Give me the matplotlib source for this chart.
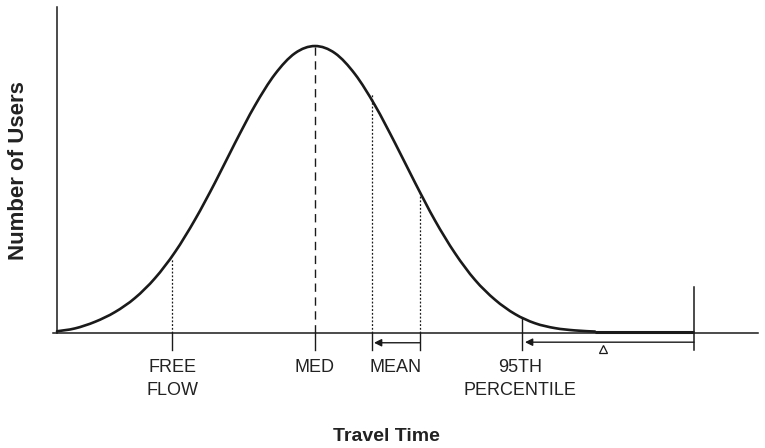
import matplotlib.pyplot as plt
from matplotlib.path import Path
from matplotlib.patches import PathPatch

# courbe de distribution (temps de parcours / nombre d'usagers)
temps = [0, 1.8, 3.8, 5.8, 7.8, 9.8, 11.8, 13.8, 15.8, 17.8, 19.8, 21.8, 23.8, 25.8,
         27.8, 29.8, 31.8, 33.8, 35.8, 37.8, 39.8, 41.8, 43.8, 45.8, 47.8, 49.8, 51.8, 53.8]
usagers = [0.6, 1.6, 3.9, 7.3, 12.2, 19.1, 28.2, 39.5, 52.4, 66.2, 79.3, 90.2, 97.5, 100,
           97.5, 90.2, 79.3, 66.2, 52.4, 39.2, 27.8, 18.5, 11.6, 6.6, 3.4, 1.7, 0.9, 0.5]

# repères sur l'axe des temps
free_flow = 11.5
mediane = 25.8
moyenne_bas = 31.5
moyenne = 36.3
p95 = 46.5
fin = 63.7

# hauteurs des repères sur la courbe
h_free_flow = 26
h_moyenne_bas = 83.6
h_moyenne = 49.5
h_p95 = 5.0
h_fin = 16

couleur = "#1a1a1a"
plt.rcParams["font.family"] = ["Liberation Sans", "DejaVu Sans"]

fig = plt.figure(figsize=(7.65, 4.48), dpi=100)
ax = fig.add_axes([57 / 765, 115 / 448, 700 / 765, 326 / 448])
ax.set_xlim(0, 70)
ax.set_ylim(0, 113.6)
ax.axis("off")

# courbe lissee (Bezier a partir des points lus)
pts = list(zip(temps, usagers))
verts = [pts[0]]
codes = [Path.MOVETO]
for i in range(len(pts) - 1):
    p0 = pts[max(i - 1, 0)]
    p1 = pts[i]
    p2 = pts[i + 1]
    p3 = pts[min(i + 2, len(pts) - 1)]
    c1 = (p1[0] + (p2[0] - p0[0]) / 6, p1[1] + (p2[1] - p0[1]) / 6)
    c2 = (p2[0] - (p3[0] - p1[0]) / 6, p2[1] - (p3[1] - p1[1]) / 6)
    verts += [c1, c2, p2]
    codes += [Path.CURVE4] * 3
ax.add_patch(PathPatch(Path(verts, codes), fill=False, lw=1.9, edgecolor=couleur,
                       capstyle="round", clip_on=False))
ax.plot([temps[-1], fin], [usagers[-1], usagers[-1]], color=couleur, lw=2.2,
        solid_capstyle="butt", clip_on=False)

# axes
ax.plot([0, 0], [0, 113.6], color=couleur, lw=1.1, clip_on=False)
ax.plot([-0.4, 70.1], [0, 0], color=couleur, lw=1.1, clip_on=False)

# lignes verticales
ax.plot([free_flow, free_flow], [0, h_free_flow], color=couleur, lw=0.9, ls=(0, (1.5, 1.5)))
ax.plot([mediane, mediane], [0, 99.6], color=couleur, lw=1.0, ls=(0, (6, 4)))
ax.plot([moyenne_bas, moyenne_bas], [0, h_moyenne_bas], color=couleur, lw=0.9, ls=(0, (1.5, 1.5)))
ax.plot([moyenne, moyenne], [0, h_moyenne], color=couleur, lw=0.9, ls=(0, (1.5, 1.5)))
ax.plot([p95, p95], [-5.9, h_p95], color=couleur, lw=1.0, clip_on=False)
ax.plot([fin, fin], [-5.9, h_fin], color=couleur, lw=1.1, clip_on=False)
for x in [free_flow, mediane, moyenne_bas, moyenne]:
    ax.plot([x, x], [-5.9, 0], color=couleur, lw=1.0, clip_on=False)

# fleches
fleche = dict(arrowstyle="-|>", lw=1.0, color=couleur, mutation_scale=11,
              shrinkA=0, shrinkB=0)
ax.annotate("", xy=(moyenne_bas + 0.2, -3.4), xytext=(moyenne, -3.4),
            arrowprops=fleche, annotation_clip=False)
ax.annotate("", xy=(p95 + 0.3, -3.2), xytext=(fin, -3.2),
            arrowprops=fleche, annotation_clip=False)
ax.plot([(p95 + fin) / 2 - 0.5], [-5.6], marker="^", ms=6, mfc="white", mec=couleur,
        mew=0.9, clip_on=False)

# etiquettes
etiq = dict(ha="center", va="top", fontsize=13, color="#222222", linespacing=1.45)
ax.text(free_flow, -9.0, "FREE\nFLOW", **etiq)
ax.text(mediane, -9.0, "MED", **etiq)
ax.text((moyenne_bas + moyenne) / 2, -9.0, "MEAN", **etiq)
ax.text(p95 - 0.2, -9.0, "95TH\nPERCENTILE", **etiq)

fig.text(386 / 765, 1 - 436 / 448, "Travel Time", ha="center", va="center",
         fontsize=14, fontweight="bold", color="#222222")
fig.text(19 / 765, 1 - 171 / 448, "Number of Users", ha="center", va="center",
         rotation=90, fontsize=16, fontweight="bold", color="#222222")

fig.savefig("out.png", dpi=100)
